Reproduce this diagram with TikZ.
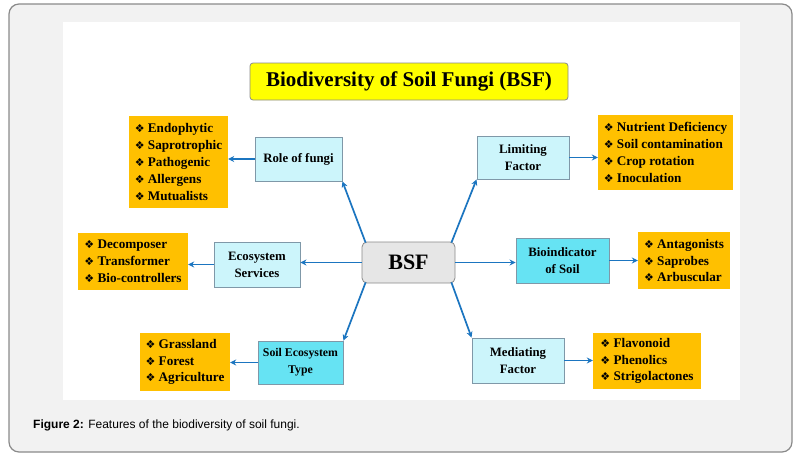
\documentclass[tikz,border=0pt]{standalone}
\usepackage{fontspec}
\setmainfont{Liberation Serif}
\newfontfamily\capfont{Liberation Sans}
\newfontfamily\dingfont{DejaVu Sans}
\usetikzlibrary{arrows.meta,calc}
\definecolor{frameg}{HTML}{F2F2F2}
\definecolor{frameb}{HTML}{8A8A8A}
\definecolor{listorange}{HTML}{FFC000}
\definecolor{lightcyan}{HTML}{CCF5FB}
\definecolor{darkcyan}{HTML}{66E3F3}
\definecolor{boxborder}{HTML}{7F98A8}
\definecolor{arrowblue}{HTML}{1B75C0}
\definecolor{titleyellow}{HTML}{FFFF00}
\definecolor{bsfgray}{HTML}{E6E6E6}
\newcommand{\itm}{{\dingfont\fontsize{11}{10}\selectfont ❖}\ }
\tikzset{
  listbox/.style={fill=listorange, inner sep=0pt, font=\bfseries\fontsize{13.2}{16.8}\selectfont, align=left},
  lbox/.style={fill=lightcyan, draw=boxborder, line width=0.9pt, font=\bfseries\fontsize{12.8}{17}\selectfont, align=center, inner sep=0pt},
  dbox/.style={lbox, fill=darkcyan},
  conn/.style={draw=arrowblue, line width=1.7pt, -{Stealth[length=6pt,width=6pt]}}
}
\begin{document}
\begin{tikzpicture}[x=1pt,y=-1pt]
\useasboundingbox (0,0) rectangle (801,458);
\draw[fill=frameg, draw=frameb, line width=1.2pt, rounded corners=10pt] (9,4) rectangle (792,452);
\fill[white] (63,22) rectangle (740,400);

\node[draw=frameb, fill=titleyellow, rounded corners=3pt, line width=0.8pt, minimum width=318pt, minimum height=37pt, inner sep=0pt, font=\bfseries\fontsize{21}{24}\selectfont] (title) at (409,81.5) {Biodiversity of Soil Fungi (BSF)};

\node[draw=frameb, fill=bsfgray, rounded corners=5pt, line width=0.8pt, minimum width=93pt, minimum height=41pt, inner sep=0pt, font=\bfseries\fontsize{22}{24}\selectfont] (bsf) at (408.5,262.5) {BSF};

\node[lbox, minimum width=87pt, minimum height=44pt] (role) at (298.5,159) {Role of fungi};
\node[listbox, minimum width=99pt, minimum height=92pt] (rolel) at (178.5,162) {\itm Endophytic\\\itm Saprotrophic\\\itm Pathogenic\\\itm Allergens\\\itm Mutualists};

\node[lbox, minimum width=92pt, minimum height=43pt] (lim) at (523,157.5) {Limiting\\Factor};
\node[listbox, minimum width=135pt, minimum height=75pt] (liml) at (665.5,152.5) {\itm Nutrient Deficiency\\\itm Soil contamination\\\itm Crop rotation\\\itm Inoculation};

\node[lbox, minimum width=86pt, minimum height=45pt] (eco) at (257,264.5) {Ecosystem\\Services};
\node[listbox, minimum width=110pt, minimum height=57pt] (ecol) at (133,261.5) {\itm Decomposer\\\itm Transformer\\\itm Bio-controllers};

\node[dbox, minimum width=93pt, minimum height=45pt] (bio) at (562.5,260.5) {Bioindicator\\of Soil};
\node[listbox, minimum width=92pt, minimum height=57pt] (biol) at (684,260.5) {\itm Antagonists\\\itm Saprobes\\\itm Arbuscular};

\node[dbox, minimum width=85pt, minimum height=43pt, font=\bfseries\fontsize{11.8}{17}\selectfont] (set) at (300.5,362.5) {Soil Ecosystem\\Type};
\node[listbox, minimum width=90pt, minimum height=58pt] (setl) at (185,362) {\itm Grassland\\\itm Forest\\\itm Agriculture};

\node[lbox, minimum width=92pt, minimum height=45pt] (med) at (518,360.5) {Mediating\\Factor};
\node[listbox, minimum width=108pt, minimum height=56pt] (medl) at (647,361) {\itm Flavonoid\\\itm Phenolics\\\itm Strigolactones};

% connectors from BSF
\draw[conn] ($(bsf.north west)+(4,1)$) -- (role.south east);
\draw[conn] ($(bsf.north east)+(-4,1)$) -- (lim.south west);
\draw[conn] ($(bsf.south west)+(4,-1)$) -- (set.north east);
\draw[conn] ($(bsf.south east)+(-4,-1)$) -- (med.north west);
\draw[conn] (bsf.west) -- (eco.east |- bsf.west);
\draw[conn] (bsf.east) -- (bio.west |- bsf.east);

% secondary
\draw[conn] (role.west) -- (rolel.east |- role.west);
\draw[conn] (lim.east) -- (liml.west |- lim.east);
\draw[conn] (eco.west) -- (ecol.east |- eco.west);
\draw[conn] (bio.east) -- (biol.west |- bio.east);
\draw[conn] (set.west) -- (setl.east |- set.west);
\draw[conn] (med.east) -- (medl.west |- med.east);

\node[anchor=west, inner sep=0pt, font=\capfont\fontsize{12}{14}\selectfont] (cap) at (33,425) {\textbf{Figure 2:} Features of the biodiversity of soil fungi.};
\end{tikzpicture}
\end{document}
